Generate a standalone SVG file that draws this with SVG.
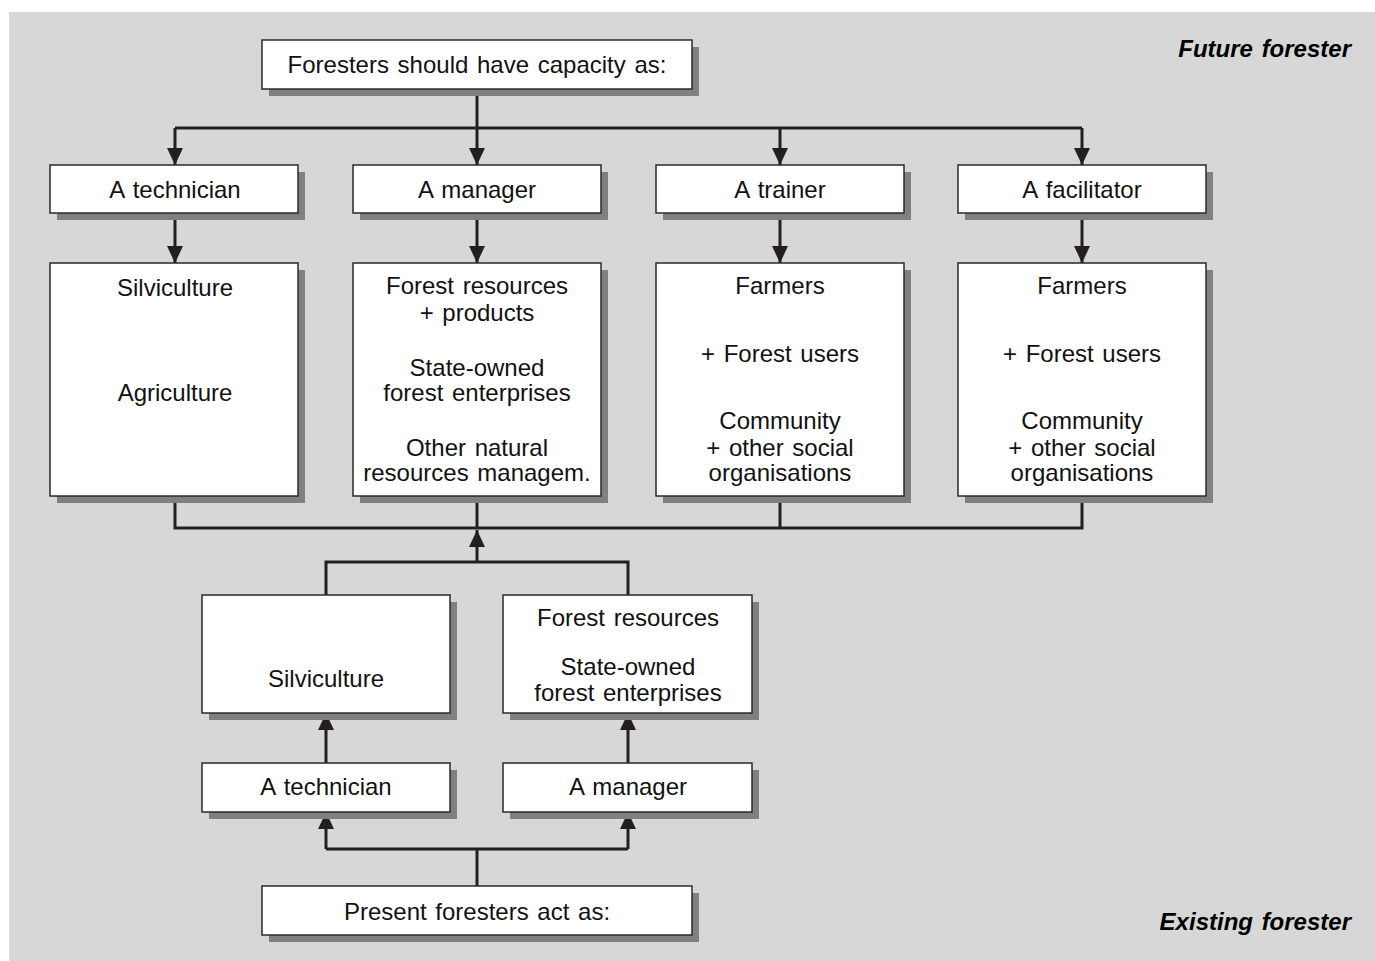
<svg xmlns="http://www.w3.org/2000/svg" width="1375" height="961" viewBox="0 0 1375 961">
<defs>
<style>
.sh{fill:#808080}
.bx{fill:#fff;stroke:#2a2a2a;stroke-width:1.5}
.t{font-family:"Liberation Sans",Arial,sans-serif;font-size:24px;fill:#111;text-anchor:middle;word-spacing:2px}
.lb{font-family:"Liberation Sans",Arial,sans-serif;font-size:24px;font-weight:bold;font-style:italic;fill:#000;text-anchor:end;word-spacing:2px}
.c{fill:none;stroke:#231f20;stroke-width:3}
</style>
<marker id="ah" viewBox="0 0 17 16" refX="17" refY="8" markerWidth="17" markerHeight="16" markerUnits="userSpaceOnUse" orient="auto">
<path d="M0,0 L17,8 L0,16 Z" fill="#231f20"/>
</marker>
</defs>
<rect x="0" y="0" width="1375" height="961" fill="#fff"/>
<rect x="9" y="12" width="1366" height="949" fill="#d7d7d7"/>

<text class="lb" x="1351" y="57">Future forester</text>
<text class="lb" x="1351" y="930">Existing forester</text>

<g id="connectors">
<path class="c" d="M477,89 V128"/>
<path class="c" d="M175,128 H1082"/>
<path class="c" d="M175,128 V165" marker-end="url(#ah)"/>
<path class="c" d="M477,128 V165" marker-end="url(#ah)"/>
<path class="c" d="M780,128 V165" marker-end="url(#ah)"/>
<path class="c" d="M1082,128 V165" marker-end="url(#ah)"/>
<path class="c" d="M175,213 V263" marker-end="url(#ah)"/>
<path class="c" d="M477,213 V263" marker-end="url(#ah)"/>
<path class="c" d="M780,213 V263" marker-end="url(#ah)"/>
<path class="c" d="M1082,213 V263" marker-end="url(#ah)"/>
<path class="c" d="M175,496 V528 H1082 V496"/>
<path class="c" d="M477,496 V528"/>
<path class="c" d="M780,496 V528"/>
<path class="c" d="M326,595 V562 H628 V595"/>
<path class="c" d="M477,562 V530" marker-end="url(#ah)"/>
<path class="c" d="M326,763 V713" marker-end="url(#ah)"/>
<path class="c" d="M628,763 V713" marker-end="url(#ah)"/>
<path class="c" d="M477,886 V849"/>
<path class="c" d="M326,849 H628"/>
<path class="c" d="M326,849 V812" marker-end="url(#ah)"/>
<path class="c" d="M628,849 V812" marker-end="url(#ah)"/>
</g>

<g id="n-top">
<rect class="sh" x="269" y="47" width="430" height="49"/>
<rect class="bx" x="262" y="40" width="430" height="49"/>
<text class="t" x="477" y="73">Foresters should have capacity as:</text>
</g>

<g id="n-technician">
<rect class="sh" x="57" y="172" width="248" height="48"/>
<rect class="bx" x="50" y="165" width="248" height="48"/>
<text class="t" x="175" y="198">A technician</text>
</g>
<g id="n-manager">
<rect class="sh" x="360" y="172" width="248" height="48"/>
<rect class="bx" x="353" y="165" width="248" height="48"/>
<text class="t" x="477" y="198">A manager</text>
</g>
<g id="n-trainer">
<rect class="sh" x="663" y="172" width="248" height="48"/>
<rect class="bx" x="656" y="165" width="248" height="48"/>
<text class="t" x="780" y="198">A trainer</text>
</g>
<g id="n-facilitator">
<rect class="sh" x="965" y="172" width="248" height="48"/>
<rect class="bx" x="958" y="165" width="248" height="48"/>
<text class="t" x="1082" y="198">A facilitator</text>
</g>

<g id="n-tech-areas">
<rect class="sh" x="57" y="270" width="248" height="233"/>
<rect class="bx" x="50" y="263" width="248" height="233"/>
<text class="t" x="175" y="296">Silviculture</text>
<text class="t" x="175" y="401">Agriculture</text>
</g>
<g id="n-man-areas">
<rect class="sh" x="360" y="270" width="248" height="233"/>
<rect class="bx" x="353" y="263" width="248" height="233"/>
<text class="t" x="477" y="294">Forest resources</text>
<text class="t" x="477" y="321">+ products</text>
<text class="t" x="477" y="376">State-owned</text>
<text class="t" x="477" y="401">forest enterprises</text>
<text class="t" x="477" y="456">Other natural</text>
<text class="t" x="477" y="481">resources managem.</text>
</g>
<g id="n-trainer-areas">
<rect class="sh" x="663" y="270" width="248" height="233"/>
<rect class="bx" x="656" y="263" width="248" height="233"/>
<text class="t" x="780" y="294">Farmers</text>
<text class="t" x="780" y="362">+ Forest users</text>
<text class="t" x="780" y="429">Community</text>
<text class="t" x="780" y="456">+ other social</text>
<text class="t" x="780" y="481">organisations</text>
</g>
<g id="n-fac-areas">
<rect class="sh" x="965" y="270" width="248" height="233"/>
<rect class="bx" x="958" y="263" width="248" height="233"/>
<text class="t" x="1082" y="294">Farmers</text>
<text class="t" x="1082" y="362">+ Forest users</text>
<text class="t" x="1082" y="429">Community</text>
<text class="t" x="1082" y="456">+ other social</text>
<text class="t" x="1082" y="481">organisations</text>
</g>

<g id="n-ex-tech-areas">
<rect class="sh" x="209" y="602" width="248" height="118"/>
<rect class="bx" x="202" y="595" width="248" height="118"/>
<text class="t" x="326" y="687">Silviculture</text>
</g>
<g id="n-ex-man-areas">
<rect class="sh" x="510" y="602" width="249" height="118"/>
<rect class="bx" x="503" y="595" width="249" height="118"/>
<text class="t" x="628" y="626">Forest resources</text>
<text class="t" x="628" y="675">State-owned</text>
<text class="t" x="628" y="701">forest enterprises</text>
</g>
<g id="n-ex-technician">
<rect class="sh" x="209" y="770" width="248" height="49"/>
<rect class="bx" x="202" y="763" width="248" height="49"/>
<text class="t" x="326" y="795">A technician</text>
</g>
<g id="n-ex-manager">
<rect class="sh" x="510" y="770" width="249" height="49"/>
<rect class="bx" x="503" y="763" width="249" height="49"/>
<text class="t" x="628" y="795">A manager</text>
</g>
<g id="n-bottom">
<rect class="sh" x="269" y="893" width="430" height="49"/>
<rect class="bx" x="262" y="886" width="430" height="49"/>
<text class="t" x="477" y="920">Present foresters act as:</text>
</g>
</svg>
